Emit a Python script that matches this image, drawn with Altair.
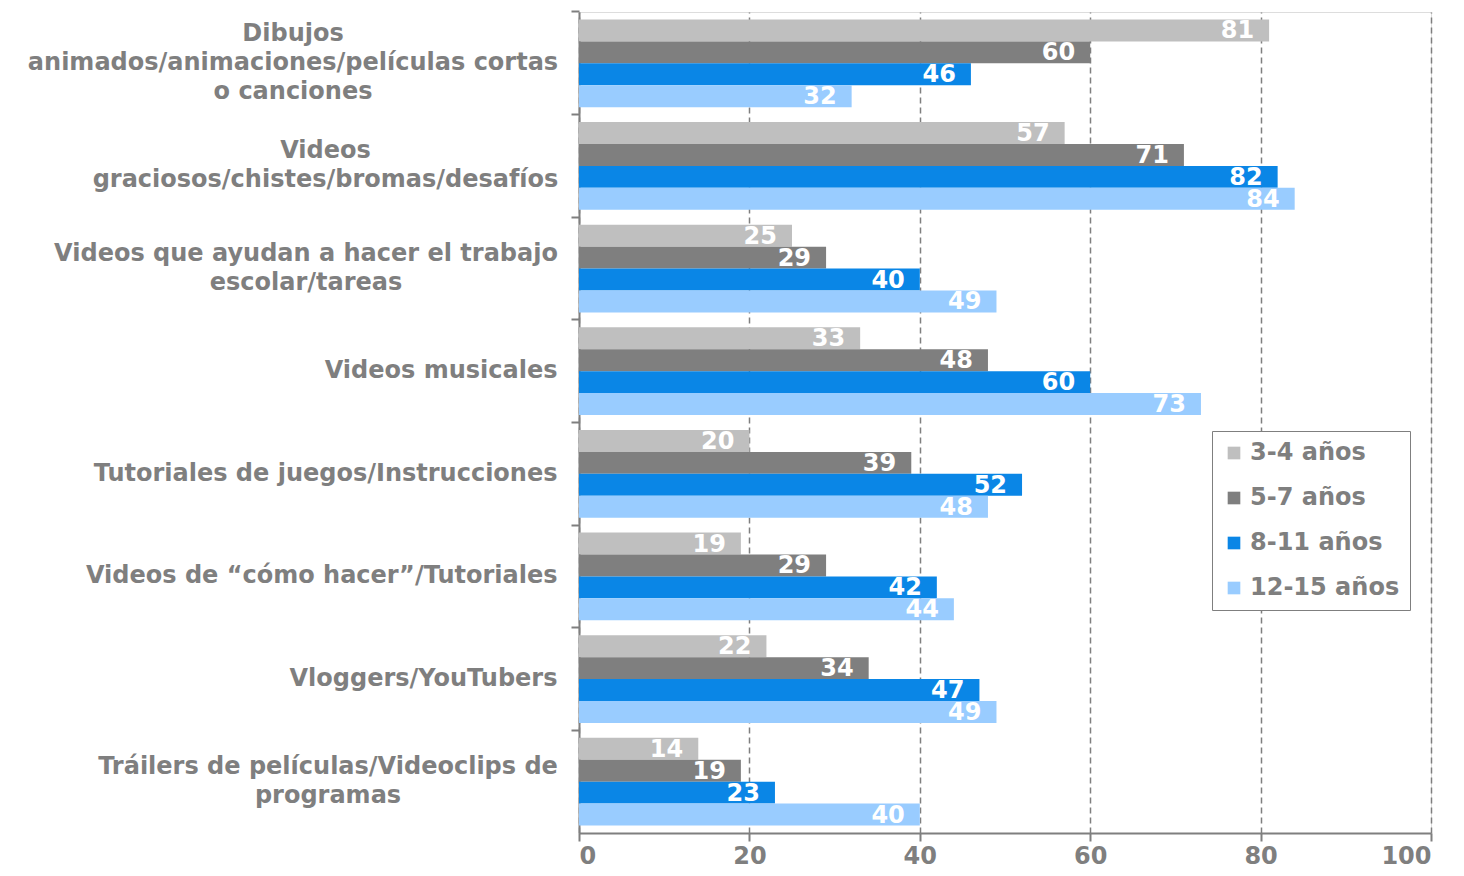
import altair as alt
import pandas as pd

categories = [
    ["Dibujos", "animados/animaciones/películas cortas", "o canciones"],
    ["Videos", "graciosos/chistes/bromas/desafíos"],
    ["Videos que ayudan a hacer el trabajo", "escolar/tareas"],
    ["Videos musicales"],
    ["Tutoriales de juegos/Instrucciones"],
    ["Videos de “cómo hacer”/Tutoriales"],
    ["Vloggers/YouTubers"],
    ["Tráilers de películas/Videoclips de", "programas"],
]
series = ["3-4 años", "5-7 años", "8-11 años", "12-15 años"]
colors = ["#bfbfbf", "#7f7f7f", "#0a86e6", "#99ccff"]
v_3_4 = [81, 57, 25, 33, 20, 19, 22, 14]
v_5_7 = [60, 71, 29, 48, 39, 29, 34, 19]
v_8_11 = [46, 82, 40, 60, 52, 42, 47, 23]
v_12_15 = [32, 84, 49, 73, 48, 44, 49, 40]
x_ticks = [0, 20, 40, 60, 80, 100]

cat_keys = ["|".join(c) for c in categories]
rows = []
for s, vals in zip(series, [v_3_4, v_5_7, v_8_11, v_12_15]):
    for k, v in zip(cat_keys, vals):
        rows.append({"cat": k, "serie": s, "value": v})
df = pd.DataFrame(rows)

FONT = "DejaVu Sans"
GRAY = "#7f7f7f"
LINE_H = 29
GAP = 22
PAD_INNER = 0.146
# widest line width (px, DejaVu Sans Bold 24) of each multi-line label: used to centre its lines
widest_line = {"Dibujos": 529, "Videos|": 464, "Videos que": 503, "Tráilers": 459}

pad_conds = []
for key, w in widest_line.items():
    pad_conds.append({"test": f"indexof(datum.value, '{key}') == 0", "value": GAP + w / 2})
off_conds = [
    {"test": f"length(split(datum.value, '|')) == {n}", "value": -(n - 1) * LINE_H / 2}
    for n in (3, 2)
]
align_cond = {"condition": {"test": "indexof(datum.value, '|') >= 0", "value": "center"}, "value": "right"}

ysc = alt.Scale(paddingInner=PAD_INNER, paddingOuter=PAD_INNER / 2)

y_ticks = alt.Y(
    "cat:N",
    sort=cat_keys,
    title=None,
    scale=ysc,
    axis=alt.Axis(
        orient="left",
        labels=False,
        domainColor=GRAY,
        domainWidth=2,
        bandPosition=-PAD_INNER / (2 * (1 - PAD_INNER)),
        tickSize=8,
        tickColor=GRAY,
        tickWidth=2,
        grid=False,
    ),
)
y_labels = alt.Y(
    "cat:N",
    sort=cat_keys,
    title=None,
    scale=ysc,
    axis=alt.Axis(
        orient="left",
        labelExpr="split(datum.value, '|')",
        labelFont=FONT,
        labelFontSize=24,
        labelFontWeight="bold",
        labelColor=GRAY,
        labelAlign=align_cond,
        labelBaseline="middle",
        labelLineHeight=LINE_H,
        labelPadding={"condition": pad_conds, "value": GAP},
        labelOffset={"condition": off_conds, "value": 0},
        labelLimit=700,
        ticks=False,
        domain=False,
        grid=False,
    ),
)
x_enc = alt.X(
    "value:Q",
    title=None,
    scale=alt.Scale(domain=[0, 100], nice=False),
    axis=alt.Axis(
        values=x_ticks,
        labelFont=FONT,
        labelFontSize=24,
        labelFontWeight="bold",
        labelColor=GRAY,
        labelPadding=3,
        tickSize=8,
        tickColor=GRAY,
        tickWidth=2,
        domainColor=GRAY,
        domainWidth=2,
        grid=True,
        gridColor=GRAY,
        gridDash=[6, 4],
        gridWidth=1.5,
    ),
)

bars = alt.Chart(df).mark_bar(cornerRadius=0).encode(
    y=y_ticks,
    x=x_enc,
    yOffset=alt.YOffset("serie:N", sort=series, scale=alt.Scale(paddingInner=0, paddingOuter=0)),
    color=alt.Color(
        "serie:N",
        sort=series,
        scale=alt.Scale(domain=series, range=colors),
        legend=alt.Legend(
            title=None,
            orient="none",
            legendX=633,
            legendY=419,
            labelFont=FONT,
            labelFontSize=24,
            labelFontWeight="bold",
            labelColor=GRAY,
            symbolType="square",
            symbolSize=160,
            symbolStrokeWidth=0,
            rowPadding=21,
            padding=10,
            strokeColor=GRAY,
            fillColor="white",
            labelLimit=300,
        ),
    ),
)

labels = alt.Chart(df).mark_text(
    align="right",
    baseline="middle",
    dx=-15,
    dy=1,
    font=FONT,
    fontSize=24,
    fontWeight="bold",
    color="white",
).encode(
    y=y_labels,
    x="value:Q",
    yOffset=alt.YOffset("serie:N", sort=series),
    text="value:Q",
)

chart = (
    alt.layer(bars, labels)
    .resolve_axis(y="independent")
    .properties(
        width=852,
        height=821,
        autosize=alt.AutoSizeParams(type="none"),
        padding={"left": 571, "top": 4, "right": 20, "bottom": 35},
    )
    .configure_view(stroke=GRAY, strokeWidth=2)
    .configure(background="white")
)

chart.save("out.html", embed_options={"renderer": "svg", "actions": False})
